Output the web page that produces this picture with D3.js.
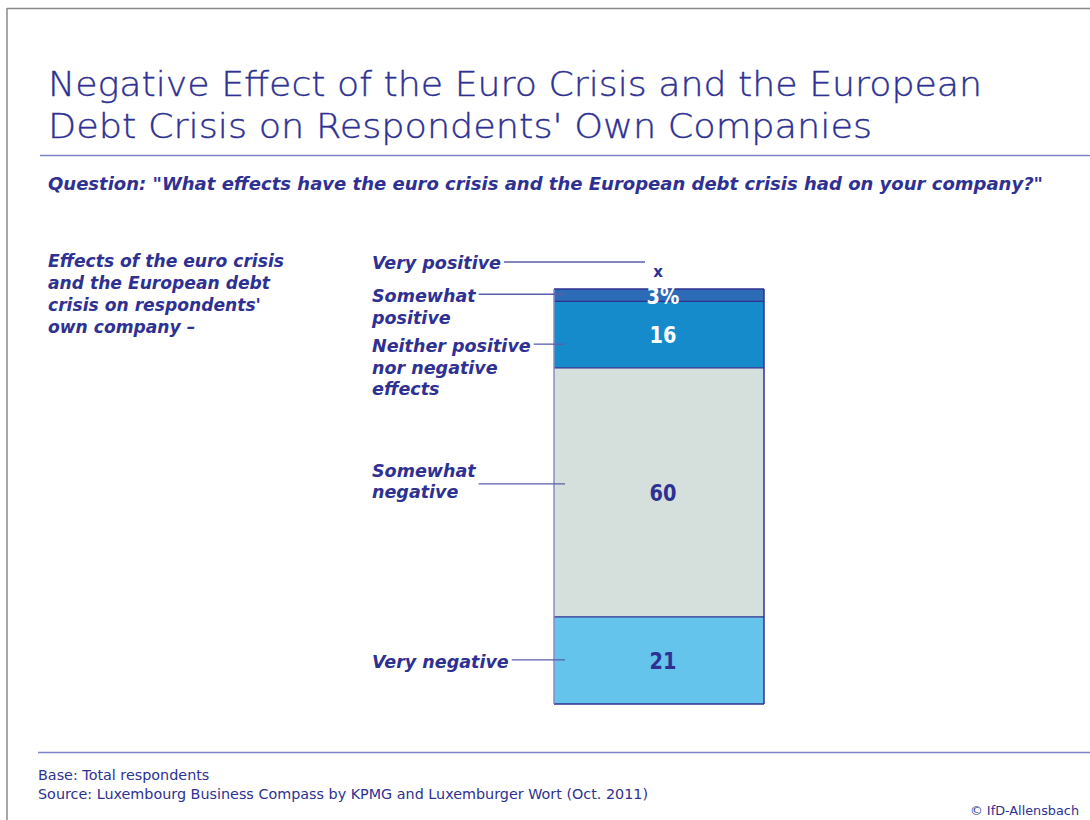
<!DOCTYPE html>
<html>
<head>
<meta charset="utf-8">
<script src="https://cdn.jsdelivr.net/npm/d3@7/dist/d3.min.js"></script>
<style>
  html, body { margin: 0; padding: 0; background: #fff; }
  svg { display: block; }
</style>
</head>
<body>
<svg id="chart" width="1090" height="820"></svg>
<script>
// ---- data ----
const categories = [
  "Very positive",
  "Somewhat positive",
  "Neither positive nor negative effects",
  "Somewhat negative",
  "Very negative"
];
const values = [0, 3, 16, 60, 21];              // percent of respondents
const valueLabels = ["x", "3%", "16", "60", "21"]; // "x" = under 0.5 %
const labelLines = [
  ["Very positive"],
  ["Somewhat", "positive"],
  ["Neither positive", "nor negative", "effects"],
  ["Somewhat", "negative"],
  ["Very negative"]
];
const titleLines = [
  "Negative Effect of the Euro Crisis and the European",
  "Debt Crisis on Respondents' Own Companies"
];
const questionText = "Question: \"What effects have the euro crisis and the European debt crisis had on your company?\"";
const introLines = [
  "Effects of the euro crisis",
  "and the European debt",
  "crisis on respondents'",
  "own company \u2013"
];
const footerLines = [
  "Base: Total respondents",
  "Source: Luxembourg Business Compass by KPMG and Luxemburger Wort (Oct. 2011)"
];
const copyright = "\u00a9 IfD-Allensbach";

// ---- style ----
const BLUE = "#2e3192";
const RULE = "#7f83c7";
const LEADER = "#5a5ea8";
const segColors = ["#1f5aa8", "#2c6bb5", "#158bcb", "#d5dfdb", "#65c4ec"];
const segText = ["#2e3192", "#ffffff", "#ffffff", "#2e3192", "#2e3192"];
const LIGHT = "'DejaVu Sans', 'Liberation Sans', sans-serif";
const BOLD = "'DejaVu Sans', 'Liberation Sans', sans-serif";

const svg = d3.select("#chart");

// stretch a text element horizontally to a given width
function fitWidth(node, w) {
  d3.select(node).attr("textLength", w).attr("lengthAdjust", "spacingAndGlyphs");
}

// ---- frame ----
svg.append("line").attr("x1", 7).attr("x2", 1090).attr("y1", 8.5).attr("y2", 8.5)
  .attr("stroke", "#8a8a8a").attr("stroke-width", 1.5);
svg.append("line").attr("x1", 7).attr("x2", 7).attr("y1", 8).attr("y2", 820)
  .attr("stroke", "#8a8a8a").attr("stroke-width", 1.5);

// ---- title ----
const titleTargets = [934, 824];
svg.append("g").selectAll("text").data(titleLines).join("text")
  .attr("x", 48).attr("y", (d, i) => 96 + i * 42)
  .attr("font-family", LIGHT).attr("font-weight", 200).attr("font-size", 33)
  .attr("fill", BLUE).attr("stroke", BLUE).attr("stroke-width", 0.35)
  .text(d => d)
  .each(function (d, i) { fitWidth(this, titleTargets[i]); });

svg.append("line").attr("x1", 40).attr("x2", 1090).attr("y1", 155.5).attr("y2", 155.5)
  .attr("stroke", RULE).attr("stroke-width", 1.5);

// ---- question ----
svg.append("text").attr("x", 48).attr("y", 190)
  .attr("font-family", BOLD).attr("font-weight", "bold").attr("font-style", "italic")
  .attr("font-size", 18).attr("fill", BLUE).text(questionText)
  .each(function () { fitWidth(this, 995); });

// ---- intro block on the left ----
const intro = svg.append("g").selectAll("text").data(introLines).join("text")
  .attr("x", 48).attr("y", (d, i) => 267 + i * 22)
  .attr("font-family", BOLD).attr("font-weight", "bold").attr("font-style", "italic")
  .attr("font-size", 18.5).attr("fill", BLUE).text(d => d);
{
  const ref = intro.nodes()[0].getComputedTextLength();
  const k = 236 / ref;
  intro.each(function () { fitWidth(this, this.getComputedTextLength() * k); });
}

// ---- stacked bar ----
const y = d3.scaleLinear().domain([0, 100]).range([289, 704]);
const x = d3.scaleBand().domain(["Total"]).range([554, 764]).padding(0);
const bx = x("Total"), bw = x.bandwidth();

const starts = [0, ...d3.cumsum(values)].slice(0, values.length);
const segs = categories.map((c, i) => ({
  cat: c, value: values[i], label: valueLabels[i],
  y0: starts[i], y1: starts[i] + values[i], i
}));

const bar = svg.append("g");
bar.selectAll("rect").data(segs.filter(d => d.value > 0)).join("rect")
  .attr("x", bx).attr("width", bw)
  .attr("y", d => y(d.y0)).attr("height", d => y(d.y1) - y(d.y0))
  .attr("fill", d => segColors[d.i]);

// segment boundaries and outline
const bounds = Array.from(new Set(segs.filter(d => d.value > 0).flatMap(d => [d.y0, d.y1])));
bar.selectAll("line.sep").data(bounds).join("line").attr("class", "sep")
  .attr("x1", bx).attr("x2", bx + bw)
  .attr("y1", d => y(d)).attr("y2", d => y(d))
  .attr("stroke", BLUE).attr("stroke-width", 1.3);
bar.append("line").attr("x1", bx + bw).attr("x2", bx + bw)
  .attr("y1", y(0)).attr("y2", y(100)).attr("stroke", BLUE).attr("stroke-width", 1.5);
bar.append("line").attr("x1", bx).attr("x2", bx)
  .attr("y1", y(0)).attr("y2", y(100)).attr("stroke", "#8a8dc6").attr("stroke-width", 1.5);

// value labels
const cx = bx + bw / 2 + 4;
bar.selectAll("text.val").data(segs).join("text").attr("class", "val")
  .attr("x", d => d.value > 0 ? cx : cx - 5)
  .attr("y", d => d.value > 0 ? (y(d.y0) + y(d.y1)) / 2 : y(0) - 17)
  .attr("dy", d => d.value > 0 ? "0.36em" : "0.3em")
  .attr("text-anchor", "middle")
  .attr("font-family", BOLD).attr("font-weight", "bold")
  .attr("font-size", d => d.value > 0 ? 23 : 15)
  .attr("fill", d => segText[d.i])
  .text(d => d.label)
  .each(function (d) {
    if (d.value > 0) fitWidth(this, this.getComputedTextLength() * 0.84);
  });

// ---- category labels with leader lines ----
// vertical nudges keep the label blocks clear of each other
const leaderNudge = [-27, -1, 9.5, -8.5, -0.5];
const firstLineOffset = [7, 8, 8, -7, 8];
const labelX = 372;
const catG = svg.append("g");
let k = null;
segs.forEach((d, i) => {
  const base = d.value > 0 ? (y(d.y0) + y(d.y1)) / 2 : y(0);
  const ly = base + leaderNudge[i];
  const texts = catG.append("g").selectAll("text").data(labelLines[i]).join("text")
    .attr("x", labelX).attr("y", (t, j) => ly + firstLineOffset[i] + j * 21.5)
    .attr("font-family", BOLD).attr("font-weight", "bold").attr("font-style", "italic")
    .attr("font-size", 18.5).attr("fill", BLUE).text(t => t);
  if (k === null) k = 129 / texts.nodes()[0].getComputedTextLength();
  let maxW = 0;
  texts.each(function () {
    const w = this.getComputedTextLength() * k;
    fitWidth(this, w);
    maxW = Math.max(maxW, w);
  });
  const x1 = labelX + maxW + 3;
  const x2 = d.value > 0 ? bx + 11 : cx - 18;
  catG.append("line").attr("x1", x1).attr("x2", x2).attr("y1", ly).attr("y2", ly)
    .attr("stroke", LEADER).attr("stroke-width", 1.3);
});

// ---- footer ----
svg.append("line").attr("x1", 38).attr("x2", 1090).attr("y1", 752.5).attr("y2", 752.5)
  .attr("stroke", RULE).attr("stroke-width", 1.5);
const foot = svg.append("g").selectAll("text").data(footerLines).join("text")
  .attr("x", 38).attr("y", (d, i) => 780 + i * 18.5)
  .attr("font-family", LIGHT).attr("font-weight", 400).attr("font-size", 13.5)
  .attr("fill", BLUE).text(d => d);
{
  const kf = 610 / foot.nodes()[1].getComputedTextLength();
  foot.each(function () { fitWidth(this, this.getComputedTextLength() * kf); });
}
svg.append("text").attr("x", 1079).attr("y", 815).attr("text-anchor", "end")
  .attr("font-family", LIGHT).attr("font-weight", 400).attr("font-size", 13)
  .attr("fill", BLUE).text(copyright)
  .each(function () { fitWidth(this, 109); });
</script>
</body>
</html>
